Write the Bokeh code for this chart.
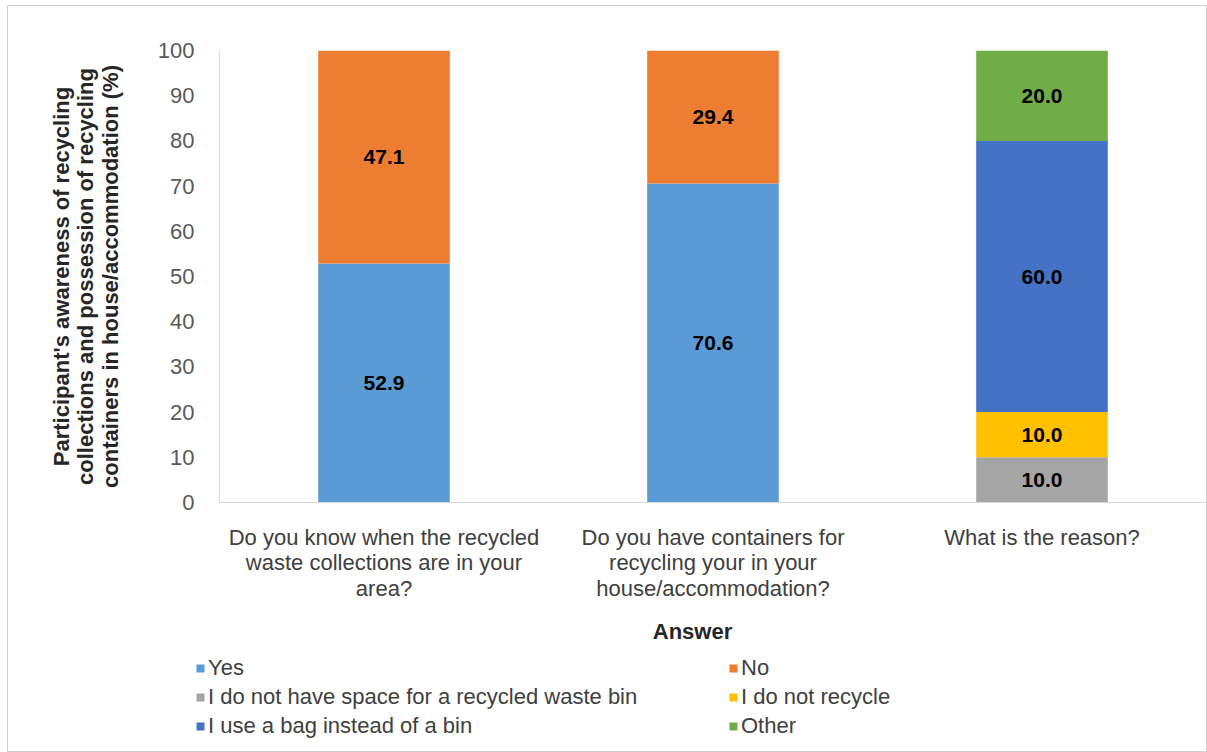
from bokeh.plotting import figure
from bokeh.layouts import column
from bokeh.models import (ColumnDataSource, FactorRange, Range1d, Legend, LegendItem, LabelSet, Label)
from bokeh.core.properties import value
from bokeh.embed import file_html
from bokeh.resources import INLINE

# ---- data ----
panel_letters = ["A", "B", "C"]
x_tick_labels = [
    "Do you know when the recycled\nwaste collections are in your\narea?",
    "Do you have containers for\nrecycling your in your\nhouse/accommodation?",
    "What is the reason?",
]
series_names = ["Yes", "No", "I do not have space for a recycled waste bin",
                "I do not recycle", "I use a bag instead of a bin", "Other"]
yes_vals = [52.9, 70.6, 0.0]
no_vals = [47.1, 29.4, 0.0]
space_vals = [0.0, 0.0, 10.0]
not_recycle_vals = [0.0, 0.0, 10.0]
bag_vals = [0.0, 0.0, 60.0]
other_vals = [0.0, 0.0, 20.0]
y_ticks = [0, 10, 20, 30, 40, 50, 60, 70, 80, 90, 100]

colors = ["#5B9BD5", "#ED7D31", "#A5A5A5", "#FFC000", "#4472C4", "#70AD47"]
keys = ["yes", "no", "space", "notrec", "bag", "other"]
all_vals = [yes_vals, no_vals, space_vals, not_recycle_vals, bag_vals, other_vals]

FONT = "Liberation Sans"

src = ColumnDataSource(dict(cat=x_tick_labels, **{k: v for k, v in zip(keys, all_vals)}))

p = figure(x_range=FactorRange(*x_tick_labels), y_range=Range1d(0, 100),
           width=1198, height=604, output_backend="svg", toolbar_location=None,
           min_border_left=211, min_border_right=0, min_border_top=44,
           min_border_bottom=108)
p.x_range.range_padding = 0

renderers = p.vbar_stack(keys, x="cat", width=0.4, color=colors, line_color=None,
                         source=src)

# value labels
lx, ly, lt = [], [], []
for i, c in enumerate(x_tick_labels):
    base = 0.0
    for vals in all_vals:
        v = vals[i]
        if v > 0:
            lx.append(c)
            ly.append(base + v / 2)
            lt.append(f"{v:.1f}")
        base += v
p.add_layout(LabelSet(x="x", y="y", text="t", source=ColumnDataSource(dict(x=lx, y=ly, t=lt)),
                      text_align="center", text_baseline="middle", text_font=value(FONT),
                      text_font_style="bold", text_font_size="21px", text_color="black"))

# panel letters
p.add_layout(LabelSet(x="x", y="y", text="t",
                      source=ColumnDataSource(dict(x=x_tick_labels, y=[100] * 3, t=panel_letters)),
                      text_align="center", text_baseline="bottom", y_offset=3,
                      text_font=value(FONT), text_font_style="bold", text_font_size="22px",
                      text_color="black"))

# axes
p.grid.visible = False
p.outline_line_color = None
p.background_fill_color = "white"

p.yaxis.ticker = y_ticks
p.yaxis.axis_label = ("Participant's awareness of recycling\n"
                      "collections and possession of recycling\n"
                      "containers in house/accommodation (%)")
p.yaxis.axis_label_text_font = FONT
p.yaxis.axis_label_text_font_style = "bold"
p.yaxis.axis_label_text_font_size = "22px"
p.yaxis.axis_label_text_line_height = 0.98
p.yaxis.axis_label_text_color = "#262626"
p.yaxis.axis_label_standoff = 32
p.yaxis.axis_line_color = "#d9d9d9"
p.yaxis.major_tick_line_color = None
p.yaxis.minor_tick_line_color = None
p.yaxis.major_label_text_font = FONT
p.yaxis.major_label_text_font_size = "22px"
p.yaxis.major_label_text_color = "#595959"
p.yaxis.major_label_standoff = 19

p.xaxis.axis_line_color = "#d9d9d9"
p.xaxis.major_tick_line_color = None
p.xaxis.minor_tick_line_color = None
p.xaxis.major_label_text_font = FONT
p.xaxis.major_label_text_font_size = "22px"
p.xaxis.major_label_text_line_height = 1.03
p.xaxis.major_label_text_color = "#404040"
p.xaxis.major_label_standoff = 16

# ---- legend panel ----
# its x range holds none of the categories, so the series only supply legend swatches
p2 = figure(width=1198, height=141, output_backend="svg", toolbar_location=None,
            x_axis_type=None, y_axis_type=None,
            x_range=FactorRange(factors=["legend"]), y_range=Range1d(0, 100),
            min_border_left=0, min_border_right=0, min_border_top=0, min_border_bottom=0)
p2.grid.visible = False
p2.outline_line_color = None
left_off = 0
try:
    p2.frame_align = False
except AttributeError:
    left_off = 211

swatches = p2.vbar_stack(keys, x="cat", width=0.4, color=colors, line_color=None, source=src)
items = [LegendItem(label=n, renderers=[r]) for n, r in zip(series_names, swatches)]
common = dict(border_line_color=None, background_fill_alpha=0, padding=0, margin=0,
              label_text_font=FONT, label_text_font_size="22px", label_text_color="#404040",
              glyph_width=10, glyph_height=10, label_height=24, label_standoff=3, spacing=3)
leg1 = Legend(items=[items[0], items[2], items[4]], location=(187 - left_off, 12), **common)
leg2 = Legend(items=[items[1], items[3], items[5]], location=(720 - left_off, 12), **common)
p2.add_layout(leg1, "center")
p2.add_layout(leg2, "center")
p2.add_layout(Label(x=684 - left_off, y=120, x_units="screen", y_units="screen", text="Answer",
                    text_align="center", text_baseline="middle", text_font=FONT,
                    text_font_style="bold", text_font_size="22px", text_color="#262626"))

layout = column(p, p2, spacing=0,
                styles={"margin-left": "7px", "margin-top": "5px",
                        "border": "1px solid #d0d0d0"})

open("out.html", "w").write(file_html(layout, INLINE))
